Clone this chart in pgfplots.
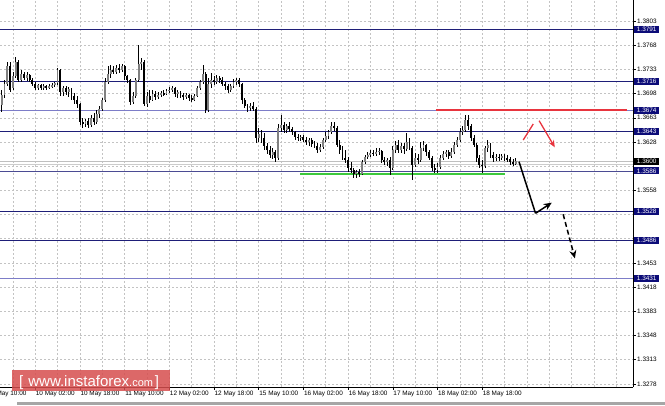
\documentclass[border=0pt]{standalone}
\usepackage{fontspec}
\setmainfont{Liberation Sans}
\usepackage{pgfplots}
\usepackage{pgfplotstable}
\pgfplotsset{compat=1.18}
\usetikzlibrary{arrows.meta}
\definecolor{navyl}{RGB}{30,30,120}
\definecolor{lightl}{RGB}{125,125,200}
\definecolor{boxnavy}{RGB}{12,12,120}
\definecolor{gridc}{RGB}{195,195,195}
\definecolor{greenl}{RGB}{60,200,60}
\definecolor{redl}{RGB}{232,52,62}
\definecolor{wm}{RGB}{214,78,78}
\pgfplotstableread{
h o hi lo c
-12 1.3682 1.3703 1.3671 1.3696
-11 1.3696 1.3718 1.3692 1.3712
-10 1.3712 1.3744 1.3709 1.3738
-9 1.3738 1.3744 1.3700 1.3703
-8 1.3706 1.3729 1.3703 1.3723
-7 1.3723 1.3751 1.3721 1.3744
-6 1.3744 1.3747 1.3715 1.3718
-5 1.3718 1.3732 1.3715 1.3726
-4 1.3726 1.3729 1.3718 1.3721
-3 1.3721 1.3729 1.3716 1.3725
-2 1.3725 1.3726 1.3715 1.3718
-1 1.3718 1.3721 1.3709 1.3712
0 1.3712 1.3715 1.3703 1.3706
1 1.3706 1.3712 1.3703 1.3710
2 1.3710 1.3712 1.3703 1.3706
3 1.3706 1.3712 1.3703 1.3709
4 1.3709 1.3710 1.3703 1.3706
5 1.3706 1.3712 1.3705 1.3709
6 1.3709 1.3713 1.3706 1.3710
7 1.3710 1.3715 1.3708 1.3713
8 1.3713 1.3735 1.3710 1.3732
9 1.3732 1.3734 1.3695 1.3700
10 1.3700 1.3709 1.3695 1.3706
11 1.3706 1.3709 1.3696 1.3700
12 1.3700 1.3708 1.3693 1.3705
13 1.3705 1.3706 1.3689 1.3695
14 1.3695 1.3699 1.3683 1.3689
15 1.3689 1.3695 1.3677 1.3683
16 1.3683 1.3684 1.3653 1.3657
17 1.3657 1.3663 1.3648 1.3654
18 1.3654 1.3661 1.3650 1.3658
19 1.3658 1.3663 1.3648 1.3653
20 1.3653 1.3667 1.3650 1.3663
21 1.3663 1.3670 1.3653 1.3657
22 1.3657 1.3674 1.3654 1.3668
23 1.3668 1.3680 1.3663 1.3676
24 1.3676 1.3692 1.3673 1.3689
25 1.3689 1.3721 1.3686 1.3715
26 1.3715 1.3738 1.3712 1.3726
27 1.3726 1.3739 1.3721 1.3732
28 1.3732 1.3738 1.3726 1.3729
29 1.3729 1.3739 1.3726 1.3735
30 1.3735 1.3741 1.3728 1.3732
31 1.3732 1.3741 1.3729 1.3738
32 1.3738 1.3739 1.3718 1.3723
33 1.3723 1.3725 1.3713 1.3718
34 1.3718 1.3719 1.3682 1.3686
35 1.3686 1.3700 1.3683 1.3695
36 1.3695 1.3721 1.3692 1.3718
37 1.3718 1.3768 1.3715 1.3741
38 1.3741 1.3750 1.3732 1.3744
39 1.3744 1.3747 1.3680 1.3683
40 1.3683 1.3700 1.3679 1.3695
41 1.3695 1.3703 1.3684 1.3689
42 1.3689 1.3703 1.3687 1.3697
43 1.3697 1.3702 1.3689 1.3693
44 1.3693 1.3700 1.3690 1.3696
45 1.3696 1.3702 1.3693 1.3699
46 1.3699 1.3703 1.3695 1.3697
47 1.3697 1.3705 1.3696 1.3702
48 1.3702 1.3708 1.3699 1.3703
49 1.3703 1.3709 1.3700 1.3706
50 1.3706 1.3708 1.3693 1.3697
51 1.3697 1.3703 1.3692 1.3700
52 1.3700 1.3702 1.3692 1.3696
53 1.3696 1.3699 1.3689 1.3693
54 1.3693 1.3699 1.3690 1.3696
55 1.3696 1.3697 1.3687 1.3692
56 1.3692 1.3696 1.3686 1.3689
57 1.3689 1.3697 1.3687 1.3695
58 1.3695 1.3709 1.3693 1.3706
59 1.3706 1.3718 1.3703 1.3715
60 1.3715 1.3739 1.3712 1.3726
61 1.3726 1.3729 1.3670 1.3674
62 1.3674 1.3721 1.3671 1.3712
63 1.3712 1.3728 1.3706 1.3718
64 1.3718 1.3723 1.3710 1.3715
65 1.3715 1.3725 1.3712 1.3721
66 1.3721 1.3723 1.3713 1.3718
67 1.3718 1.3722 1.3709 1.3712
68 1.3712 1.3715 1.3703 1.3709
69 1.3709 1.3712 1.3699 1.3703
70 1.3703 1.3712 1.3700 1.3709
71 1.3709 1.3719 1.3706 1.3715
72 1.3715 1.3721 1.3710 1.3718
73 1.3718 1.3721 1.3708 1.3712
74 1.3712 1.3713 1.3683 1.3689
75 1.3689 1.3692 1.3677 1.3680
76 1.3680 1.3683 1.3671 1.3677
77 1.3677 1.3684 1.3673 1.3680
78 1.3680 1.3686 1.3673 1.3676
79 1.3676 1.3679 1.3627 1.3634
80 1.3634 1.3648 1.3628 1.3640
81 1.3640 1.3645 1.3627 1.3634
82 1.3634 1.3641 1.3616 1.3622
83 1.3622 1.3627 1.3611 1.3616
84 1.3616 1.3622 1.3605 1.3609
85 1.3609 1.3619 1.3603 1.3614
86 1.3614 1.3616 1.3599 1.3605
87 1.3605 1.3654 1.3602 1.3648
88 1.3648 1.3667 1.3642 1.3653
89 1.3653 1.3657 1.3641 1.3645
90 1.3645 1.3654 1.3641 1.3651
91 1.3651 1.3657 1.3642 1.3647
92 1.3647 1.3650 1.3638 1.3642
93 1.3642 1.3644 1.3631 1.3635
94 1.3635 1.3640 1.3629 1.3634
95 1.3634 1.3638 1.3629 1.3635
96 1.3635 1.3638 1.3628 1.3631
97 1.3631 1.3635 1.3624 1.3628
98 1.3628 1.3634 1.3622 1.3631
99 1.3631 1.3634 1.3621 1.3625
100 1.3625 1.3629 1.3619 1.3622
101 1.3622 1.3627 1.3612 1.3616
102 1.3616 1.3625 1.3614 1.3621
103 1.3621 1.3634 1.3618 1.3631
104 1.3631 1.3642 1.3628 1.3637
105 1.3637 1.3645 1.3632 1.3642
106 1.3642 1.3657 1.3640 1.3651
107 1.3651 1.3657 1.3644 1.3648
108 1.3648 1.3651 1.3621 1.3624
109 1.3624 1.3631 1.3611 1.3616
110 1.3616 1.3622 1.3602 1.3605
111 1.3605 1.3616 1.3598 1.3602
112 1.3602 1.3606 1.3585 1.3590
113 1.3590 1.3599 1.3583 1.3587
114 1.3587 1.3590 1.3576 1.3582
115 1.3582 1.3587 1.3576 1.3585
116 1.3585 1.3589 1.3577 1.3582
117 1.3582 1.3602 1.3580 1.3599
118 1.3599 1.3609 1.3596 1.3606
119 1.3606 1.3614 1.3603 1.3609
120 1.3609 1.3616 1.3606 1.3612
121 1.3612 1.3616 1.3608 1.3611
122 1.3611 1.3619 1.3608 1.3614
123 1.3614 1.3619 1.3609 1.3615
124 1.3615 1.3616 1.3598 1.3602
125 1.3602 1.3606 1.3595 1.3599
126 1.3599 1.3605 1.3593 1.3602
127 1.3602 1.3606 1.3580 1.3590
128 1.3590 1.3622 1.3587 1.3616
129 1.3616 1.3629 1.3612 1.3624
130 1.3624 1.3631 1.3612 1.3616
131 1.3616 1.3627 1.3612 1.3622
132 1.3622 1.3627 1.3611 1.3618
133 1.3618 1.3641 1.3615 1.3628
134 1.3628 1.3634 1.3616 1.3619
135 1.3619 1.3622 1.3573 1.3595
136 1.3595 1.3612 1.3592 1.3605
137 1.3605 1.3611 1.3596 1.3602
138 1.3602 1.3628 1.3599 1.3619
139 1.3619 1.3629 1.3615 1.3624
140 1.3624 1.3625 1.3608 1.3614
141 1.3614 1.3616 1.3602 1.3605
142 1.3605 1.3608 1.3586 1.3590
143 1.3590 1.3596 1.3583 1.3587
144 1.3587 1.3598 1.3583 1.3592
145 1.3592 1.3609 1.3589 1.3605
146 1.3605 1.3615 1.3602 1.3611
147 1.3611 1.3616 1.3606 1.3614
148 1.3614 1.3616 1.3603 1.3608
149 1.3608 1.3619 1.3605 1.3614
150 1.3614 1.3628 1.3611 1.3624
151 1.3624 1.3635 1.3621 1.3631
152 1.3631 1.3648 1.3628 1.3642
153 1.3642 1.3651 1.3638 1.3645
154 1.3645 1.3667 1.3642 1.3660
155 1.3660 1.3667 1.3645 1.3651
156 1.3651 1.3654 1.3629 1.3634
157 1.3634 1.3638 1.3621 1.3624
158 1.3624 1.3627 1.3599 1.3605
159 1.3605 1.3609 1.3590 1.3595
160 1.3595 1.3602 1.3583 1.3593
161 1.3593 1.3622 1.3590 1.3619
162 1.3619 1.3631 1.3614 1.3624
163 1.3624 1.3627 1.3605 1.3609
164 1.3609 1.3614 1.3599 1.3605
165 1.3605 1.3611 1.3600 1.3606
166 1.3606 1.3611 1.3600 1.3605
167 1.3605 1.3611 1.3602 1.3608
168 1.3608 1.3611 1.3600 1.3605
169 1.3605 1.3609 1.3599 1.3603
170 1.3603 1.3606 1.3595 1.3599
171 1.3599 1.3603 1.3593 1.3596
172 1.3596 1.3605 1.3595 1.3600
}\candles
\begin{document}
\begin{tikzpicture}
\fill[white] (0pt,0pt) rectangle (665pt,405pt);
\begin{axis}[
  at={(0pt,18pt)}, anchor=south west,
  scale only axis, width=633pt, height=387pt,
  xmin=-12.6, xmax=214.0, ymin=1.32734, ymax=1.38334,
  clip=false,
  axis x line=bottom, axis y line=right,
  axis line style={-, black, line width=0.8pt},
  tick align=outside, major tick length=2.5pt,
  tick style={black, line width=0.5pt},
  xtick={0,16,...,160},
  xticklabels={10 May 02:00,10 May 18:00,11 May 10:00,12 May 02:00,12 May 18:00,15 May 10:00,16 May 02:00,16 May 18:00,17 May 10:00,18 May 02:00,18 May 18:00},
  xticklabel style={font=\fontsize{6.4}{7}\selectfont, anchor=north west, inner sep=0pt, xshift=0.5pt, yshift=-1pt},
  extra x ticks={-8,8,24,40,56,72,88,104,120,136,152,168,176,184,192,200,208},
  extra x tick labels={},
  extra x tick style={major tick length=0pt, grid=major},
  ytick={1.3278,1.3313,1.3348,1.3383,1.3418,1.3453,1.3558,1.3628,1.3663,1.3698,1.3733,1.3768,1.3803},
  yticklabels={1.3278,1.3313,1.3348,1.3383,1.3418,1.3453,1.3558,1.3628,1.3663,1.3698,1.3733,1.3768,1.3803},
  yticklabel style={font=\fontsize{6.4}{7}\selectfont, anchor=west, inner sep=0pt, xshift=1.5pt},
  extra y ticks={1.3488,1.3523,1.3593},
  extra y tick labels={},
  extra y tick style={major tick length=0pt, grid=major},
  xmajorgrids, ymajorgrids,
  grid style={gridc, line width=0.5pt, dash pattern=on 2pt off 2pt},
]
% level lines
\addplot[navyl, line width=0.7pt] coordinates {(-12.6,1.3791) (214,1.3791)};
\addplot[navyl, line width=0.7pt] coordinates {(-12.6,1.3716) (214,1.3716)};
\addplot[lightl, line width=0.8pt] coordinates {(-12.6,1.3674) (214,1.3674)};
\addplot[navyl, line width=0.7pt] coordinates {(-12.6,1.3643) (214,1.3643)};
\addplot[black!25, line width=0.6pt] coordinates {(-12.6,1.3600) (214,1.3600)};
\addplot[black!20, line width=0.6pt] coordinates {(-12.6,1.3596) (214,1.3596)};
\addplot[navyl!80, line width=0.7pt] coordinates {(-12.6,1.3586) (214,1.3586)};
\addplot[navyl, line width=0.7pt] coordinates {(-12.6,1.3528) (214,1.3528)};
\addplot[navyl, line width=0.7pt] coordinates {(-12.6,1.3486) (214,1.3486)};
\addplot[lightl, line width=0.8pt] coordinates {(-12.6,1.3431) (214,1.3431)};
% support / resistance
\addplot[greenl, line width=2pt] coordinates {(94.8,1.3582) (168.1,1.3582)};
\addplot[redl, line width=2.4pt] coordinates {(143.4,1.3674) (211.8,1.3674)};
% candles: wicks
\addplot[draw=none, mark=none, error bars/.cd, y dir=both, y explicit, error mark=none,
  error bar style={draw=black, solid, line width=0.55pt}]
  table[x=h, y expr={0.5*(\thisrow{hi}+\thisrow{lo})}, y error expr={0.5*(\thisrow{hi}-\thisrow{lo})}] {\candles};
% bull bodies
\addplot[draw=none, mark=none, error bars/.cd, y dir=both, y explicit, error mark=none,
  error bar style={draw=black!50, solid, line width=1.9pt}]
  table[x=h, y expr={\thisrow{c}>=\thisrow{o} ? 0.5*(\thisrow{o}+\thisrow{c}) : nan}, y error expr={max(0.5*abs(\thisrow{c}-\thisrow{o}),0.00004)}] {\candles};
% bear bodies
\addplot[draw=none, mark=none, error bars/.cd, y dir=both, y explicit, error mark=none,
  error bar style={draw=black, solid, line width=1.9pt}]
  table[x=h, y expr={\thisrow{c}<\thisrow{o} ? 0.5*(\thisrow{o}+\thisrow{c}) : nan}, y error expr={max(0.5*abs(\thisrow{c}-\thisrow{o}),0.00004)}] {\candles};
% forecast arrows
\addplot[redl, line width=1.3pt] coordinates {(174.7,1.36308) (178.3,1.36540)};
\addplot[redl, line width=1.3pt, -{Stealth[length=7pt,width=6pt]}] coordinates {(180.4,1.36587) (186.0,1.36203)};
\addplot[black, line width=1.5pt] coordinates {(173.2,1.35994) (179.1,1.35247)};
\addplot[black, line width=1.5pt, -{Stealth[length=8pt,width=7pt]}] coordinates {(179.1,1.35247) (184.9,1.35401)};
\addplot[black, line width=1.5pt, dash pattern=on 5pt off 3pt, -{Stealth[length=8pt,width=7pt]}] coordinates {(189.0,1.35233) (193.2,1.34596)};
% price boxes
\foreach \v in {1.3791,1.3716,1.3674,1.3643,1.3586,1.3528,1.3486,1.3431}{
  \edef\temp{\noexpand\node[fill=boxnavy, text=white, font=\noexpand\fontsize{6.4}{7}\noexpand\selectfont, inner sep=0pt, minimum width=25pt, minimum height=7pt, anchor=west] at (axis cs:214,\v) [xshift=1pt] {\v};}
  \temp
}
\node[fill=black, text=white, font=\fontsize{6.4}{7}\selectfont, inner sep=0pt, minimum width=25pt, minimum height=7pt, anchor=west] at (axis cs:214,1.3600) [xshift=1pt] {1.3600};
\node[font=\fontsize{6.4}{7}\selectfont, anchor=north west, inner sep=0pt, xshift=0.5pt, yshift=-3.5pt] at (axis cs:-16,1.32734) {9 May 10:00};
\end{axis}
% scrollbar strip
\fill[black!35] (17pt,0pt) rectangle (665pt,3pt);
% watermark
\fill[wm, opacity=0.85] (12pt,14pt) rectangle (170pt,35pt);
\node[text=white, anchor=base west, inner sep=0pt] at (19pt,19pt) {\fontsize{15}{17}\selectfont[\,\,www.instaforex\fontsize{11}{13}\selectfont.com\,\fontsize{15}{17}\selectfont]};
\pgfresetboundingbox
\useasboundingbox (0pt,0pt) rectangle (665pt,405pt);
\end{tikzpicture}
\end{document}
